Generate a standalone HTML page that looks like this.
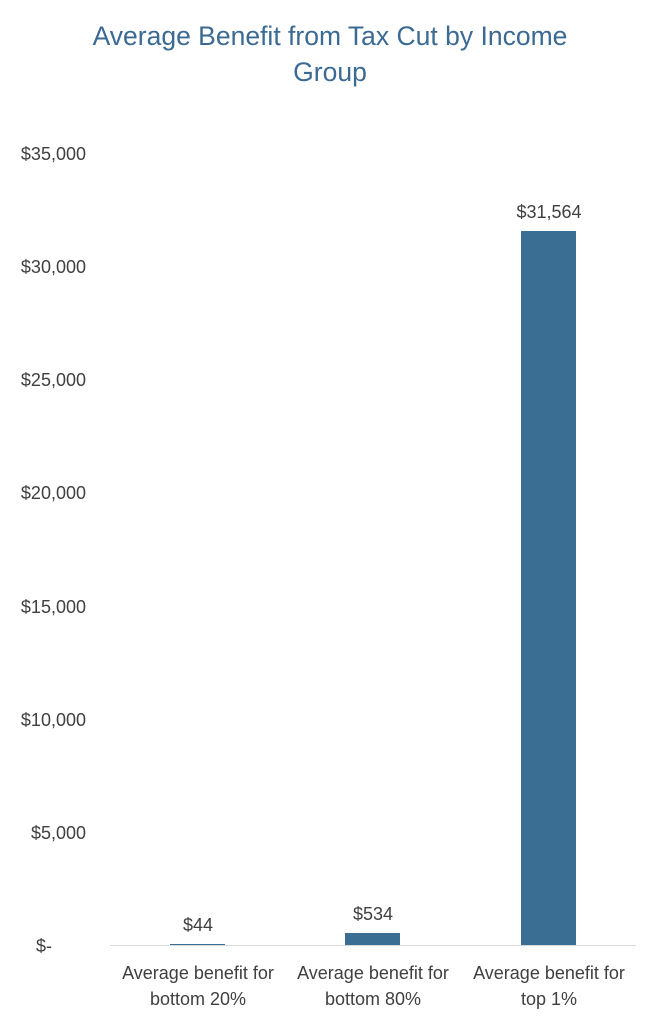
<!DOCTYPE html>
<html><head><style>
body{margin:0;background:#fff;}
svg text{font-family:"Liberation Sans",sans-serif;}
</style></head><body>
<svg width="661" height="1024" xmlns="http://www.w3.org/2000/svg">
<rect width="661" height="1024" fill="#fff"/>
<g fill="#3b6a93" font-size="26.5" text-anchor="middle">
<text x="330" y="45">Average Benefit from Tax Cut by Income</text>
<text x="330" y="81">Group</text>
</g>
<g fill="#404040" font-size="18" text-anchor="end">
<text x="86" y="160">$35,000</text>
<text x="86" y="273">$30,000</text>
<text x="86" y="386">$25,000</text>
<text x="86" y="499">$20,000</text>
<text x="86" y="613">$15,000</text>
<text x="86" y="726">$10,000</text>
<text x="86" y="839">$5,000</text>
<text x="52" y="952">$-</text>
</g>
<line x1="110" y1="945.5" x2="636" y2="945.5" stroke="#d9d9d9" stroke-width="1"/>
<rect x="170" y="944" width="55" height="1" fill="#3b6e93"/>
<rect x="345" y="933" width="55" height="12" fill="#3b6e93"/>
<rect x="521" y="231" width="55" height="714" fill="#3b6e93"/>
<g fill="#404040" font-size="18" text-anchor="middle">
<text x="198" y="931">$44</text>
<text x="373" y="920">$534</text>
<text x="549" y="218">$31,564</text>
<text x="198" y="979">Average benefit for</text>
<text x="198" y="1005">bottom 20%</text>
<text x="373" y="979">Average benefit for</text>
<text x="373" y="1005">bottom 80%</text>
<text x="549" y="979">Average benefit for</text>
<text x="549" y="1005">top 1%</text>
</g>
</svg>
</body></html>
